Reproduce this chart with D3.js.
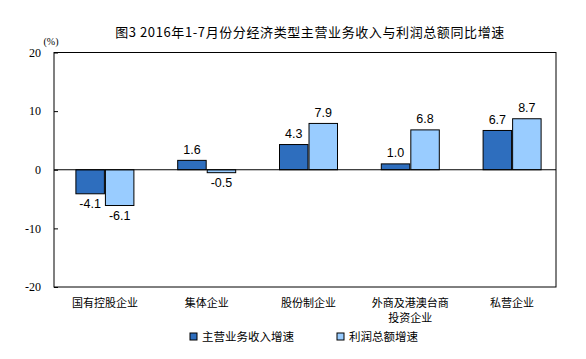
<!DOCTYPE html>
<html><head><meta charset="utf-8">
<script src="https://cdn.jsdelivr.net/npm/d3@7/dist/d3.min.js"></script>
<style>body{margin:0;background:#fff;}svg{display:block;}</style>
</head><body>
<svg id="c" width="586" height="359"></svg>
<script>
const categories = ["国有控股企业","集体企业","股份制企业","外商及港澳台商\n投资企业","私营企业"];
const seriesNames = ["主营业务收入增速","利润总额增速"];
const revenue = [-4.1, 1.6, 4.3, 1.0, 6.7];
const profit = [-6.1, -0.5, 7.9, 6.8, 8.7];
const yTicks = [20, 10, 0, -10, -20];
const title = "图3  2016年1-7月份分经济类型主营业务收入与利润总额同比增速";
const colors = ["#2E6EBE", "#99CCFF"];

const svg = d3.select("#c");
const L = 54, R = 556, T = 52.5, B = 287;
const cjk = "'Noto Sans CJK SC', sans-serif";
const hy = s => s.replace(/\u2212/g, "-");

const y = d3.scaleLinear().domain([-20, 20]).range([B, T]);
const x0 = d3.scaleBand().domain(categories).range([L, 563]);
const x1 = d3.scaleBand().domain(seriesNames).range([0, 58]).paddingInner(0.035);

svg.append("text").attr("x", 310).attr("y", 37).attr("text-anchor", "middle")
  .attr("font-family", cjk).attr("font-size", 13).attr("font-weight", "normal")
  .attr("letter-spacing", 0.6).attr("fill", "#000").text(title);

// frame
svg.append("rect").attr("x", L).attr("y", T).attr("width", R - L).attr("height", B - T)
  .attr("fill", "none").attr("stroke", "#000").attr("stroke-width", 1);

// y axis
const yAxis = d3.axisLeft(y).tickValues(yTicks).tickSize(-4).tickPadding(13).tickFormat(d => hy(d3.format("d")(d)));
const ga = svg.append("g").attr("transform", `translate(${L},0)`).call(yAxis);
ga.select(".domain").remove();
ga.selectAll("line").attr("stroke", "#000");
ga.selectAll("text").attr("font-family", "'Liberation Serif', serif").attr("font-size", 12).attr("fill", "#000");

svg.append("text").attr("x", 51).attr("y", 45).attr("text-anchor", "middle")
  .attr("font-family", "'Liberation Serif', serif").attr("font-size", 10).attr("fill", "#000").text("(%)");

const data = categories.map((c, i) => ({c, vals: [revenue[i], profit[i]]}));
const groups = svg.append("g").selectAll("g").data(data).join("g")
  .attr("transform", d => `translate(${x0(d.c) + x0.bandwidth()/2 - 29},0)`);

groups.selectAll("rect").data(d => d.vals.map((v, j) => ({v, s: seriesNames[j], j})))
  .join("rect")
  .attr("x", d => x1(d.s)).attr("width", x1.bandwidth())
  .attr("y", d => y(Math.max(0, d.v))).attr("height", d => Math.abs(y(d.v) - y(0)))
  .attr("fill", d => colors[d.j]).attr("stroke", "#000").attr("stroke-width", 1);

groups.selectAll("text.v").data(d => d.vals.map((v, j) => ({v, s: seriesNames[j], j})))
  .join("text").attr("class", "v")
  .attr("x", d => x1(d.s) + x1.bandwidth()/2)
  .attr("y", d => d.v >= 0 ? y(d.v) - 6.5 : y(d.v) + 14.5)
  .attr("text-anchor", "middle").attr("font-family", "'Liberation Sans', Arial, sans-serif")
  .attr("font-size", 12.5).attr("fill", "#000")
  .text(d => hy(d3.format(".1f")(d.v)));

// zero line
svg.append("line").attr("x1", L).attr("x2", R).attr("y1", y(0)).attr("y2", y(0)).attr("stroke", "#000");

// category labels
const cl = svg.append("g").selectAll("text").data(categories).join("text")
  .attr("x", c => x0(c) + x0.bandwidth()/2).attr("y", 307)
  .attr("text-anchor", "middle").attr("font-family", cjk).attr("font-size", 11).attr("fill", "#000");
cl.each(function(c) {
  const lines = c.split("\n");
  d3.select(this).selectAll("tspan").data(lines).join("tspan")
    .attr("x", x0(c) + x0.bandwidth()/2).attr("dy", (d, i) => i ? 15 : 0).text(d => d);
});

// legend
const legX = [190, 337];
seriesNames.forEach((s, i) => {
  svg.append("rect").attr("x", legX[i]).attr("y", 333).attr("width", 7).attr("height", 7)
    .attr("fill", colors[i]).attr("stroke", "#000").attr("stroke-width", 1);
  svg.append("text").attr("x", legX[i] + 12).attr("y", 341).attr("font-family", cjk)
    .attr("font-size", 11.5).attr("fill", "#000").text(s);
});
</script>
</body></html>
